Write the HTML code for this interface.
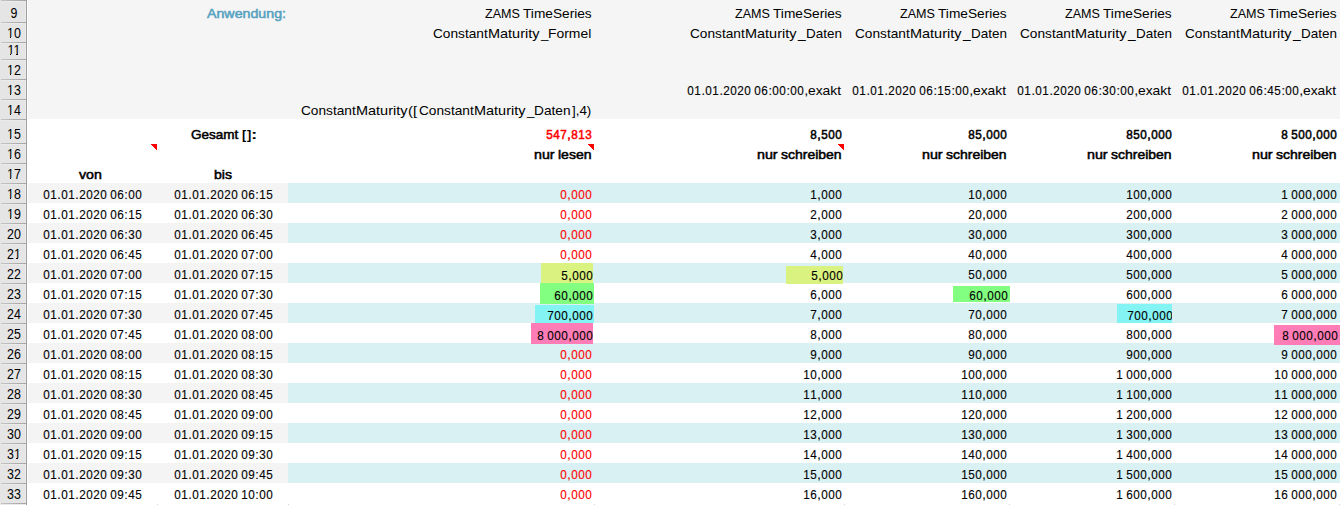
<!DOCTYPE html>
<html><head><meta charset="utf-8"><title>sheet</title><style>
html,body{margin:0;padding:0;background:#fff}
body{width:1340px;height:505px;overflow:hidden;position:relative;font-family:"Liberation Sans",sans-serif;color:#000}
.r{position:absolute}
.t{position:absolute;height:20px;line-height:20px;white-space:nowrap;font-size:12.6px;display:flex}
.t b{font-weight:normal;display:flex;justify-content:center}
.bd,.t.bd b{font-weight:bold}
.fb,.t.fb b{-webkit-text-stroke:0.52px currentColor}
.d{width:7px;transform:scaleX(.93)}.p{width:4px}.e{width:3px}
.t{-webkit-text-stroke:0.12px currentColor}
.w{position:absolute;height:20px;line-height:20px;white-space:pre;font-size:13.0px;transform-origin:0 50%}
.hb{position:absolute;left:1px;width:25px;height:1px;background:linear-gradient(90deg,#c4c4c4,#a4a4a4);box-shadow:0 1px 0 #ebebeb}
.fp{position:absolute;height:1px;background:#e5e5e5}
.hn{position:absolute;left:0;width:28px;height:16px;line-height:16px;text-align:center;font-size:13.8px;transform:scaleX(0.9)}
</style></head><body>
<div class="r" style="left:28px;top:0;width:1312px;height:119px;background:#f5f5f5"></div>
<div class="r" style="left:28px;top:183px;width:260px;height:20px;background:#f4f4f4"></div>
<div class="r" style="left:288px;top:183px;width:1052px;height:20px;background:#d9f1f3"></div>
<div class="r" style="left:28px;top:223px;width:260px;height:20px;background:#f4f4f4"></div>
<div class="r" style="left:288px;top:223px;width:1052px;height:20px;background:#d9f1f3"></div>
<div class="r" style="left:28px;top:263px;width:260px;height:20px;background:#f4f4f4"></div>
<div class="r" style="left:288px;top:263px;width:1052px;height:20px;background:#d9f1f3"></div>
<div class="r" style="left:28px;top:303px;width:260px;height:20px;background:#f4f4f4"></div>
<div class="r" style="left:288px;top:303px;width:1052px;height:20px;background:#d9f1f3"></div>
<div class="r" style="left:28px;top:343px;width:260px;height:20px;background:#f4f4f4"></div>
<div class="r" style="left:288px;top:343px;width:1052px;height:20px;background:#d9f1f3"></div>
<div class="r" style="left:28px;top:383px;width:260px;height:20px;background:#f4f4f4"></div>
<div class="r" style="left:288px;top:383px;width:1052px;height:20px;background:#d9f1f3"></div>
<div class="r" style="left:28px;top:423px;width:260px;height:20px;background:#f4f4f4"></div>
<div class="r" style="left:288px;top:423px;width:1052px;height:20px;background:#d9f1f3"></div>
<div class="r" style="left:28px;top:463px;width:260px;height:20px;background:#f4f4f4"></div>
<div class="r" style="left:288px;top:463px;width:1052px;height:20px;background:#d9f1f3"></div>
<div class="r" style="left:541px;top:263px;width:52px;height:20px;background:#daf280"></div>
<div class="r" style="left:540px;top:283px;width:54px;height:21px;background:#82ff80"></div>
<div class="r" style="left:535px;top:305px;width:59px;height:18px;background:#84f3f3"></div>
<div class="r" style="left:531px;top:323px;width:62px;height:21px;background:#ff7db7"></div>
<div class="r" style="left:786px;top:266px;width:57px;height:18px;background:#daf280"></div>
<div class="r" style="left:953px;top:286px;width:57px;height:16px;background:#82ff80"></div>
<div class="r" style="left:1117px;top:304px;width:55px;height:19px;background:#84f3f3"></div>
<div class="r" style="left:1274px;top:325px;width:66px;height:20px;background:#ff7db7"></div>
<svg class="r" style="left:151px;top:144px" width="6" height="6" shape-rendering="crispEdges"><path d="M0 0H6V6H5V5H4V4H3V3H2V2H1V1H0Z" fill="#ff0000"/></svg>
<svg class="r" style="left:588px;top:144px" width="6" height="6" shape-rendering="crispEdges"><path d="M0 0H6V6H5V5H4V4H3V3H2V2H1V1H0Z" fill="#ff0000"/></svg>
<svg class="r" style="left:838px;top:144px" width="6" height="6" shape-rendering="crispEdges"><path d="M0 0H6V6H5V5H4V4H3V3H2V2H1V1H0Z" fill="#ff0000"/></svg>
<div class="r" style="left:157px;top:504px;width:1px;height:1px;background:#d4d4d4"></div>
<div class="r" style="left:288px;top:504px;width:1px;height:1px;background:#d4d4d4"></div>
<div class="r" style="left:594px;top:504px;width:1px;height:1px;background:#d4d4d4"></div>
<div class="r" style="left:844px;top:504px;width:1px;height:1px;background:#d4d4d4"></div>
<div class="r" style="left:1009px;top:504px;width:1px;height:1px;background:#d4d4d4"></div>
<div class="r" style="left:1174px;top:504px;width:1px;height:1px;background:#d4d4d4"></div>
<div class="r" style="left:1339px;top:504px;width:1px;height:1px;background:#d4d4d4"></div>
<div class="r" style="left:0;top:0;width:26px;height:505px;background:#e5e5e5"></div>
<div class="r" style="left:26px;top:0;width:1px;height:505px;background:#9e9e9e"></div>
<div class="r" style="left:25px;top:0;width:1px;height:505px;background:#ececec"></div>
<div class="hb" style="top:22px"></div>
<div class="hn" style="top:6px">9</div>
<div class="hb" style="top:42px"></div>
<div class="hn" style="top:26px">10</div>
<div class="fp" style="left:6.9px;top:37px;width:2.7px"></div>
<div class="fp" style="left:11.4px;top:37px;width:2.7px"></div>
<div class="hb" style="top:59px"></div>
<div class="hn" style="top:43px">11</div>
<div class="fp" style="left:6.9px;top:54px;width:2.7px"></div>
<div class="fp" style="left:11.4px;top:54px;width:2.7px"></div>
<div class="fp" style="left:13.8px;top:54px;width:2.7px"></div>
<div class="fp" style="left:18.3px;top:54px;width:2.7px"></div>
<div class="hb" style="top:79px"></div>
<div class="hn" style="top:63px">12</div>
<div class="fp" style="left:6.9px;top:74px;width:2.7px"></div>
<div class="fp" style="left:11.4px;top:74px;width:2.7px"></div>
<div class="hb" style="top:99px"></div>
<div class="hn" style="top:83px">13</div>
<div class="fp" style="left:6.9px;top:94px;width:2.7px"></div>
<div class="fp" style="left:11.4px;top:94px;width:2.7px"></div>
<div class="hb" style="top:119px"></div>
<div class="hn" style="top:103px">14</div>
<div class="fp" style="left:6.9px;top:114px;width:2.7px"></div>
<div class="fp" style="left:11.4px;top:114px;width:2.7px"></div>
<div class="hb" style="top:143px"></div>
<div class="hn" style="top:127px">15</div>
<div class="fp" style="left:6.9px;top:138px;width:2.7px"></div>
<div class="fp" style="left:11.4px;top:138px;width:2.7px"></div>
<div class="hb" style="top:163px"></div>
<div class="hn" style="top:147px">16</div>
<div class="fp" style="left:6.9px;top:158px;width:2.7px"></div>
<div class="fp" style="left:11.4px;top:158px;width:2.7px"></div>
<div class="hb" style="top:183px"></div>
<div class="hn" style="top:167px">17</div>
<div class="fp" style="left:6.9px;top:178px;width:2.7px"></div>
<div class="fp" style="left:11.4px;top:178px;width:2.7px"></div>
<div class="hb" style="top:203px"></div>
<div class="hn" style="top:187px">18</div>
<div class="fp" style="left:6.9px;top:198px;width:2.7px"></div>
<div class="fp" style="left:11.4px;top:198px;width:2.7px"></div>
<div class="hb" style="top:223px"></div>
<div class="hn" style="top:207px">19</div>
<div class="fp" style="left:6.9px;top:218px;width:2.7px"></div>
<div class="fp" style="left:11.4px;top:218px;width:2.7px"></div>
<div class="hb" style="top:243px"></div>
<div class="hn" style="top:227px">20</div>
<div class="hb" style="top:263px"></div>
<div class="hn" style="top:247px">21</div>
<div class="fp" style="left:13.8px;top:258px;width:2.7px"></div>
<div class="fp" style="left:18.3px;top:258px;width:2.7px"></div>
<div class="hb" style="top:283px"></div>
<div class="hn" style="top:267px">22</div>
<div class="hb" style="top:303px"></div>
<div class="hn" style="top:287px">23</div>
<div class="hb" style="top:323px"></div>
<div class="hn" style="top:307px">24</div>
<div class="hb" style="top:343px"></div>
<div class="hn" style="top:327px">25</div>
<div class="hb" style="top:363px"></div>
<div class="hn" style="top:347px">26</div>
<div class="hb" style="top:383px"></div>
<div class="hn" style="top:367px">27</div>
<div class="hb" style="top:403px"></div>
<div class="hn" style="top:387px">28</div>
<div class="hb" style="top:423px"></div>
<div class="hn" style="top:407px">29</div>
<div class="hb" style="top:443px"></div>
<div class="hn" style="top:427px">30</div>
<div class="hb" style="top:463px"></div>
<div class="hn" style="top:447px">31</div>
<div class="fp" style="left:13.8px;top:458px;width:2.7px"></div>
<div class="fp" style="left:18.3px;top:458px;width:2.7px"></div>
<div class="hb" style="top:483px"></div>
<div class="hn" style="top:467px">32</div>
<div class="hb" style="top:503px"></div>
<div class="hn" style="top:487px">33</div>
<div class="hb" style="top:0"></div>
<div class="w fb" style="left:207.45px;top:4px;transform:scaleX(1.0927);color:#56a1c0">Anwendung:</div>
<div class="w" style="left:484.50px;top:4px;transform:scaleX(0.9654)">ZAMS</div>
<div class="w" style="left:523.09px;top:4px;transform:scaleX(1.0526)">TimeSeries</div>
<div class="w" style="left:734.60px;top:4px;transform:scaleX(0.9654)">ZAMS</div>
<div class="w" style="left:773.19px;top:4px;transform:scaleX(1.0526)">TimeSeries</div>
<div class="w" style="left:899.60px;top:4px;transform:scaleX(0.9654)">ZAMS</div>
<div class="w" style="left:938.19px;top:4px;transform:scaleX(1.0526)">TimeSeries</div>
<div class="w" style="left:1064.60px;top:4px;transform:scaleX(0.9654)">ZAMS</div>
<div class="w" style="left:1103.19px;top:4px;transform:scaleX(1.0526)">TimeSeries</div>
<div class="w" style="left:1229.60px;top:4px;transform:scaleX(0.9654)">ZAMS</div>
<div class="w" style="left:1268.19px;top:4px;transform:scaleX(1.0526)">TimeSeries</div>
<div class="w" style="left:432.71px;top:24px;transform:scaleX(1.0509)">Constant</div>
<div class="w" style="left:488.01px;top:24px;transform:scaleX(1.1120)">Maturity</div>
<div class="w" style="left:540.80px;top:24px;transform:scaleX(1.0294)">_</div>
<div class="w" style="left:548.46px;top:24px;transform:scaleX(1.0697)">Formel</div>
<div class="w" style="left:689.51px;top:24px;transform:scaleX(1.0509)">Constant</div>
<div class="w" style="left:744.81px;top:24px;transform:scaleX(1.1120)">Maturity</div>
<div class="w" style="left:797.91px;top:24px;transform:scaleX(1.0558)">_</div>
<div class="w" style="left:805.80px;top:24px;transform:scaleX(1.0338)">Daten</div>
<div class="w" style="left:854.51px;top:24px;transform:scaleX(1.0509)">Constant</div>
<div class="w" style="left:909.81px;top:24px;transform:scaleX(1.1120)">Maturity</div>
<div class="w" style="left:962.91px;top:24px;transform:scaleX(1.0558)">_</div>
<div class="w" style="left:970.80px;top:24px;transform:scaleX(1.0338)">Daten</div>
<div class="w" style="left:1019.51px;top:24px;transform:scaleX(1.0509)">Constant</div>
<div class="w" style="left:1074.81px;top:24px;transform:scaleX(1.1120)">Maturity</div>
<div class="w" style="left:1127.91px;top:24px;transform:scaleX(1.0558)">_</div>
<div class="w" style="left:1135.80px;top:24px;transform:scaleX(1.0338)">Daten</div>
<div class="w" style="left:1184.51px;top:24px;transform:scaleX(1.0509)">Constant</div>
<div class="w" style="left:1239.81px;top:24px;transform:scaleX(1.1120)">Maturity</div>
<div class="w" style="left:1292.91px;top:24px;transform:scaleX(1.0558)">_</div>
<div class="w" style="left:1300.80px;top:24px;transform:scaleX(1.0338)">Daten</div>
<div class="w" style="left:808.21px;top:81px;transform:scaleX(1.0647)">exakt</div>
<div class="w" style="left:973.21px;top:81px;transform:scaleX(1.0647)">exakt</div>
<div class="w" style="left:1138.21px;top:81px;transform:scaleX(1.0647)">exakt</div>
<div class="w" style="left:1303.21px;top:81px;transform:scaleX(1.0647)">exakt</div>
<div class="w" style="left:300.91px;top:101px;transform:scaleX(1.0509)">Constant</div>
<div class="w" style="left:356.21px;top:101px;transform:scaleX(1.1120)">Maturity</div>
<div class="w" style="left:408.48px;top:101px;transform:scaleX(1.1355)">([</div>
<div class="w" style="left:418.71px;top:101px;transform:scaleX(1.0509)">Constant</div>
<div class="w" style="left:474.01px;top:101px;transform:scaleX(1.1120)">Maturity</div>
<div class="w" style="left:526.80px;top:101px;transform:scaleX(1.0294)">_</div>
<div class="w" style="left:534.48px;top:101px;transform:scaleX(1.0521)">Daten</div>
<div class="w" style="left:571.80px;top:101px;transform:scaleX(1.0286)">],4)</div>
<div class="w fb" style="left:190.98px;top:125px;transform:scaleX(1.0405)">Gesamt</div>
<div class="w bd" style="left:242.18px;top:125px;transform:scaleX(0.9841)">[</div>
<div class="w bd" style="left:247.24px;top:125px;transform:scaleX(0.9841)">]</div>
<div class="w bd" style="left:251.17px;top:125px;transform:scaleX(1.4652)">:</div>
<div class="w fb" style="left:533.73px;top:145px;transform:scaleX(1.0923)">nur</div>
<div class="w fb" style="left:558.12px;top:145px;transform:scaleX(1.0784)">lesen</div>
<div class="w fb" style="left:756.73px;top:145px;transform:scaleX(1.0978)">nur</div>
<div class="w fb" style="left:781.08px;top:145px;transform:scaleX(1.0742)">schreiben</div>
<div class="w fb" style="left:921.73px;top:145px;transform:scaleX(1.0978)">nur</div>
<div class="w fb" style="left:946.08px;top:145px;transform:scaleX(1.0742)">schreiben</div>
<div class="w fb" style="left:1086.73px;top:145px;transform:scaleX(1.0978)">nur</div>
<div class="w fb" style="left:1111.08px;top:145px;transform:scaleX(1.0742)">schreiben</div>
<div class="w fb" style="left:1251.73px;top:145px;transform:scaleX(1.0978)">nur</div>
<div class="w fb" style="left:1276.08px;top:145px;transform:scaleX(1.0742)">schreiben</div>
<div class="w fb" style="left:79.22px;top:165px;transform:scaleX(1.0884)">von</div>
<div class="w fb" style="left:213.76px;top:165px;transform:scaleX(1.0811)">bis</div>
<div class="t" style="left:687.30px;top:81px;width:121px"><b class="d">0</b><b class="d">1</b><b class="p">.</b><b class="d">0</b><b class="d">1</b><b class="p">.</b><b class="d">2</b><b class="d">0</b><b class="d">2</b><b class="d">0</b><b class="e">&nbsp;</b><b class="d">0</b><b class="d">6</b><b class="p">:</b><b class="d">0</b><b class="d">0</b><b class="p">:</b><b class="d">0</b><b class="d">0</b><b class="p">,</b></div>
<div class="t" style="left:852.30px;top:81px;width:121px"><b class="d">0</b><b class="d">1</b><b class="p">.</b><b class="d">0</b><b class="d">1</b><b class="p">.</b><b class="d">2</b><b class="d">0</b><b class="d">2</b><b class="d">0</b><b class="e">&nbsp;</b><b class="d">0</b><b class="d">6</b><b class="p">:</b><b class="d">1</b><b class="d">5</b><b class="p">:</b><b class="d">0</b><b class="d">0</b><b class="p">,</b></div>
<div class="t" style="left:1017.30px;top:81px;width:121px"><b class="d">0</b><b class="d">1</b><b class="p">.</b><b class="d">0</b><b class="d">1</b><b class="p">.</b><b class="d">2</b><b class="d">0</b><b class="d">2</b><b class="d">0</b><b class="e">&nbsp;</b><b class="d">0</b><b class="d">6</b><b class="p">:</b><b class="d">3</b><b class="d">0</b><b class="p">:</b><b class="d">0</b><b class="d">0</b><b class="p">,</b></div>
<div class="t" style="left:1182.30px;top:81px;width:121px"><b class="d">0</b><b class="d">1</b><b class="p">.</b><b class="d">0</b><b class="d">1</b><b class="p">.</b><b class="d">2</b><b class="d">0</b><b class="d">2</b><b class="d">0</b><b class="e">&nbsp;</b><b class="d">0</b><b class="d">6</b><b class="p">:</b><b class="d">4</b><b class="d">5</b><b class="p">:</b><b class="d">0</b><b class="d">0</b><b class="p">,</b></div>
<div class="t fb" style="left:546.00px;top:125px;width:46px;color:#ff0000"><b class="d">5</b><b class="d">4</b><b class="d">7</b><b class="p">,</b><b class="d">8</b><b class="d">1</b><b class="d">3</b></div>
<div class="t fb" style="left:810.00px;top:125px;width:32px"><b class="d">8</b><b class="p">,</b><b class="d">5</b><b class="d">0</b><b class="d">0</b></div>
<div class="t fb" style="left:968.00px;top:125px;width:39px"><b class="d">8</b><b class="d">5</b><b class="p">,</b><b class="d">0</b><b class="d">0</b><b class="d">0</b></div>
<div class="t fb" style="left:1126.00px;top:125px;width:46px"><b class="d">8</b><b class="d">5</b><b class="d">0</b><b class="p">,</b><b class="d">0</b><b class="d">0</b><b class="d">0</b></div>
<div class="t fb" style="left:1281.00px;top:125px;width:56px"><b class="d">8</b><b class="e">&nbsp;</b><b class="d">5</b><b class="d">0</b><b class="d">0</b><b class="p">,</b><b class="d">0</b><b class="d">0</b><b class="d">0</b></div>
<div class="t" style="left:43.00px;top:185px;width:99px"><b class="d">0</b><b class="d">1</b><b class="p">.</b><b class="d">0</b><b class="d">1</b><b class="p">.</b><b class="d">2</b><b class="d">0</b><b class="d">2</b><b class="d">0</b><b class="e">&nbsp;</b><b class="d">0</b><b class="d">6</b><b class="p">:</b><b class="d">0</b><b class="d">0</b></div>
<div class="t" style="left:174.00px;top:185px;width:99px"><b class="d">0</b><b class="d">1</b><b class="p">.</b><b class="d">0</b><b class="d">1</b><b class="p">.</b><b class="d">2</b><b class="d">0</b><b class="d">2</b><b class="d">0</b><b class="e">&nbsp;</b><b class="d">0</b><b class="d">6</b><b class="p">:</b><b class="d">1</b><b class="d">5</b></div>
<div class="t" style="left:560.00px;top:185px;width:32px;color:#ff0000"><b class="d">0</b><b class="p">,</b><b class="d">0</b><b class="d">0</b><b class="d">0</b></div>
<div class="t" style="left:810.00px;top:185px;width:32px"><b class="d">1</b><b class="p">,</b><b class="d">0</b><b class="d">0</b><b class="d">0</b></div>
<div class="t" style="left:968.00px;top:185px;width:39px"><b class="d">1</b><b class="d">0</b><b class="p">,</b><b class="d">0</b><b class="d">0</b><b class="d">0</b></div>
<div class="t" style="left:1126.00px;top:185px;width:46px"><b class="d">1</b><b class="d">0</b><b class="d">0</b><b class="p">,</b><b class="d">0</b><b class="d">0</b><b class="d">0</b></div>
<div class="t" style="left:1281.00px;top:185px;width:56px"><b class="d">1</b><b class="e">&nbsp;</b><b class="d">0</b><b class="d">0</b><b class="d">0</b><b class="p">,</b><b class="d">0</b><b class="d">0</b><b class="d">0</b></div>
<div class="t" style="left:43.00px;top:205px;width:99px"><b class="d">0</b><b class="d">1</b><b class="p">.</b><b class="d">0</b><b class="d">1</b><b class="p">.</b><b class="d">2</b><b class="d">0</b><b class="d">2</b><b class="d">0</b><b class="e">&nbsp;</b><b class="d">0</b><b class="d">6</b><b class="p">:</b><b class="d">1</b><b class="d">5</b></div>
<div class="t" style="left:174.00px;top:205px;width:99px"><b class="d">0</b><b class="d">1</b><b class="p">.</b><b class="d">0</b><b class="d">1</b><b class="p">.</b><b class="d">2</b><b class="d">0</b><b class="d">2</b><b class="d">0</b><b class="e">&nbsp;</b><b class="d">0</b><b class="d">6</b><b class="p">:</b><b class="d">3</b><b class="d">0</b></div>
<div class="t" style="left:560.00px;top:205px;width:32px;color:#ff0000"><b class="d">0</b><b class="p">,</b><b class="d">0</b><b class="d">0</b><b class="d">0</b></div>
<div class="t" style="left:810.00px;top:205px;width:32px"><b class="d">2</b><b class="p">,</b><b class="d">0</b><b class="d">0</b><b class="d">0</b></div>
<div class="t" style="left:968.00px;top:205px;width:39px"><b class="d">2</b><b class="d">0</b><b class="p">,</b><b class="d">0</b><b class="d">0</b><b class="d">0</b></div>
<div class="t" style="left:1126.00px;top:205px;width:46px"><b class="d">2</b><b class="d">0</b><b class="d">0</b><b class="p">,</b><b class="d">0</b><b class="d">0</b><b class="d">0</b></div>
<div class="t" style="left:1281.00px;top:205px;width:56px"><b class="d">2</b><b class="e">&nbsp;</b><b class="d">0</b><b class="d">0</b><b class="d">0</b><b class="p">,</b><b class="d">0</b><b class="d">0</b><b class="d">0</b></div>
<div class="t" style="left:43.00px;top:225px;width:99px"><b class="d">0</b><b class="d">1</b><b class="p">.</b><b class="d">0</b><b class="d">1</b><b class="p">.</b><b class="d">2</b><b class="d">0</b><b class="d">2</b><b class="d">0</b><b class="e">&nbsp;</b><b class="d">0</b><b class="d">6</b><b class="p">:</b><b class="d">3</b><b class="d">0</b></div>
<div class="t" style="left:174.00px;top:225px;width:99px"><b class="d">0</b><b class="d">1</b><b class="p">.</b><b class="d">0</b><b class="d">1</b><b class="p">.</b><b class="d">2</b><b class="d">0</b><b class="d">2</b><b class="d">0</b><b class="e">&nbsp;</b><b class="d">0</b><b class="d">6</b><b class="p">:</b><b class="d">4</b><b class="d">5</b></div>
<div class="t" style="left:560.00px;top:225px;width:32px;color:#ff0000"><b class="d">0</b><b class="p">,</b><b class="d">0</b><b class="d">0</b><b class="d">0</b></div>
<div class="t" style="left:810.00px;top:225px;width:32px"><b class="d">3</b><b class="p">,</b><b class="d">0</b><b class="d">0</b><b class="d">0</b></div>
<div class="t" style="left:968.00px;top:225px;width:39px"><b class="d">3</b><b class="d">0</b><b class="p">,</b><b class="d">0</b><b class="d">0</b><b class="d">0</b></div>
<div class="t" style="left:1126.00px;top:225px;width:46px"><b class="d">3</b><b class="d">0</b><b class="d">0</b><b class="p">,</b><b class="d">0</b><b class="d">0</b><b class="d">0</b></div>
<div class="t" style="left:1281.00px;top:225px;width:56px"><b class="d">3</b><b class="e">&nbsp;</b><b class="d">0</b><b class="d">0</b><b class="d">0</b><b class="p">,</b><b class="d">0</b><b class="d">0</b><b class="d">0</b></div>
<div class="t" style="left:43.00px;top:245px;width:99px"><b class="d">0</b><b class="d">1</b><b class="p">.</b><b class="d">0</b><b class="d">1</b><b class="p">.</b><b class="d">2</b><b class="d">0</b><b class="d">2</b><b class="d">0</b><b class="e">&nbsp;</b><b class="d">0</b><b class="d">6</b><b class="p">:</b><b class="d">4</b><b class="d">5</b></div>
<div class="t" style="left:174.00px;top:245px;width:99px"><b class="d">0</b><b class="d">1</b><b class="p">.</b><b class="d">0</b><b class="d">1</b><b class="p">.</b><b class="d">2</b><b class="d">0</b><b class="d">2</b><b class="d">0</b><b class="e">&nbsp;</b><b class="d">0</b><b class="d">7</b><b class="p">:</b><b class="d">0</b><b class="d">0</b></div>
<div class="t" style="left:560.00px;top:245px;width:32px;color:#ff0000"><b class="d">0</b><b class="p">,</b><b class="d">0</b><b class="d">0</b><b class="d">0</b></div>
<div class="t" style="left:810.00px;top:245px;width:32px"><b class="d">4</b><b class="p">,</b><b class="d">0</b><b class="d">0</b><b class="d">0</b></div>
<div class="t" style="left:968.00px;top:245px;width:39px"><b class="d">4</b><b class="d">0</b><b class="p">,</b><b class="d">0</b><b class="d">0</b><b class="d">0</b></div>
<div class="t" style="left:1126.00px;top:245px;width:46px"><b class="d">4</b><b class="d">0</b><b class="d">0</b><b class="p">,</b><b class="d">0</b><b class="d">0</b><b class="d">0</b></div>
<div class="t" style="left:1281.00px;top:245px;width:56px"><b class="d">4</b><b class="e">&nbsp;</b><b class="d">0</b><b class="d">0</b><b class="d">0</b><b class="p">,</b><b class="d">0</b><b class="d">0</b><b class="d">0</b></div>
<div class="t" style="left:43.00px;top:265px;width:99px"><b class="d">0</b><b class="d">1</b><b class="p">.</b><b class="d">0</b><b class="d">1</b><b class="p">.</b><b class="d">2</b><b class="d">0</b><b class="d">2</b><b class="d">0</b><b class="e">&nbsp;</b><b class="d">0</b><b class="d">7</b><b class="p">:</b><b class="d">0</b><b class="d">0</b></div>
<div class="t" style="left:174.00px;top:265px;width:99px"><b class="d">0</b><b class="d">1</b><b class="p">.</b><b class="d">0</b><b class="d">1</b><b class="p">.</b><b class="d">2</b><b class="d">0</b><b class="d">2</b><b class="d">0</b><b class="e">&nbsp;</b><b class="d">0</b><b class="d">7</b><b class="p">:</b><b class="d">1</b><b class="d">5</b></div>
<div class="t" style="left:561.00px;top:266px;width:32px"><b class="d">5</b><b class="p">,</b><b class="d">0</b><b class="d">0</b><b class="d">0</b></div>
<div class="t" style="left:811.00px;top:266px;width:32px"><b class="d">5</b><b class="p">,</b><b class="d">0</b><b class="d">0</b><b class="d">0</b></div>
<div class="t" style="left:968.00px;top:265px;width:39px"><b class="d">5</b><b class="d">0</b><b class="p">,</b><b class="d">0</b><b class="d">0</b><b class="d">0</b></div>
<div class="t" style="left:1126.00px;top:265px;width:46px"><b class="d">5</b><b class="d">0</b><b class="d">0</b><b class="p">,</b><b class="d">0</b><b class="d">0</b><b class="d">0</b></div>
<div class="t" style="left:1281.00px;top:265px;width:56px"><b class="d">5</b><b class="e">&nbsp;</b><b class="d">0</b><b class="d">0</b><b class="d">0</b><b class="p">,</b><b class="d">0</b><b class="d">0</b><b class="d">0</b></div>
<div class="t" style="left:43.00px;top:285px;width:99px"><b class="d">0</b><b class="d">1</b><b class="p">.</b><b class="d">0</b><b class="d">1</b><b class="p">.</b><b class="d">2</b><b class="d">0</b><b class="d">2</b><b class="d">0</b><b class="e">&nbsp;</b><b class="d">0</b><b class="d">7</b><b class="p">:</b><b class="d">1</b><b class="d">5</b></div>
<div class="t" style="left:174.00px;top:285px;width:99px"><b class="d">0</b><b class="d">1</b><b class="p">.</b><b class="d">0</b><b class="d">1</b><b class="p">.</b><b class="d">2</b><b class="d">0</b><b class="d">2</b><b class="d">0</b><b class="e">&nbsp;</b><b class="d">0</b><b class="d">7</b><b class="p">:</b><b class="d">3</b><b class="d">0</b></div>
<div class="t" style="left:554.00px;top:286px;width:39px"><b class="d">6</b><b class="d">0</b><b class="p">,</b><b class="d">0</b><b class="d">0</b><b class="d">0</b></div>
<div class="t" style="left:810.00px;top:285px;width:32px"><b class="d">6</b><b class="p">,</b><b class="d">0</b><b class="d">0</b><b class="d">0</b></div>
<div class="t" style="left:969.00px;top:286px;width:39px"><b class="d">6</b><b class="d">0</b><b class="p">,</b><b class="d">0</b><b class="d">0</b><b class="d">0</b></div>
<div class="t" style="left:1126.00px;top:285px;width:46px"><b class="d">6</b><b class="d">0</b><b class="d">0</b><b class="p">,</b><b class="d">0</b><b class="d">0</b><b class="d">0</b></div>
<div class="t" style="left:1281.00px;top:285px;width:56px"><b class="d">6</b><b class="e">&nbsp;</b><b class="d">0</b><b class="d">0</b><b class="d">0</b><b class="p">,</b><b class="d">0</b><b class="d">0</b><b class="d">0</b></div>
<div class="t" style="left:43.00px;top:305px;width:99px"><b class="d">0</b><b class="d">1</b><b class="p">.</b><b class="d">0</b><b class="d">1</b><b class="p">.</b><b class="d">2</b><b class="d">0</b><b class="d">2</b><b class="d">0</b><b class="e">&nbsp;</b><b class="d">0</b><b class="d">7</b><b class="p">:</b><b class="d">3</b><b class="d">0</b></div>
<div class="t" style="left:174.00px;top:305px;width:99px"><b class="d">0</b><b class="d">1</b><b class="p">.</b><b class="d">0</b><b class="d">1</b><b class="p">.</b><b class="d">2</b><b class="d">0</b><b class="d">2</b><b class="d">0</b><b class="e">&nbsp;</b><b class="d">0</b><b class="d">7</b><b class="p">:</b><b class="d">4</b><b class="d">5</b></div>
<div class="t" style="left:547.00px;top:306px;width:46px"><b class="d">7</b><b class="d">0</b><b class="d">0</b><b class="p">,</b><b class="d">0</b><b class="d">0</b><b class="d">0</b></div>
<div class="t" style="left:810.00px;top:305px;width:32px"><b class="d">7</b><b class="p">,</b><b class="d">0</b><b class="d">0</b><b class="d">0</b></div>
<div class="t" style="left:968.00px;top:305px;width:39px"><b class="d">7</b><b class="d">0</b><b class="p">,</b><b class="d">0</b><b class="d">0</b><b class="d">0</b></div>
<div class="t" style="left:1127.00px;top:306px;width:46px;clip-path:inset(0 1px 0 0)"><b class="d">7</b><b class="d">0</b><b class="d">0</b><b class="p">,</b><b class="d">0</b><b class="d">0</b><b class="d">0</b></div>
<div class="t" style="left:1281.00px;top:305px;width:56px"><b class="d">7</b><b class="e">&nbsp;</b><b class="d">0</b><b class="d">0</b><b class="d">0</b><b class="p">,</b><b class="d">0</b><b class="d">0</b><b class="d">0</b></div>
<div class="t" style="left:43.00px;top:325px;width:99px"><b class="d">0</b><b class="d">1</b><b class="p">.</b><b class="d">0</b><b class="d">1</b><b class="p">.</b><b class="d">2</b><b class="d">0</b><b class="d">2</b><b class="d">0</b><b class="e">&nbsp;</b><b class="d">0</b><b class="d">7</b><b class="p">:</b><b class="d">4</b><b class="d">5</b></div>
<div class="t" style="left:174.00px;top:325px;width:99px"><b class="d">0</b><b class="d">1</b><b class="p">.</b><b class="d">0</b><b class="d">1</b><b class="p">.</b><b class="d">2</b><b class="d">0</b><b class="d">2</b><b class="d">0</b><b class="e">&nbsp;</b><b class="d">0</b><b class="d">8</b><b class="p">:</b><b class="d">0</b><b class="d">0</b></div>
<div class="t" style="left:537.00px;top:326px;width:56px"><b class="d">8</b><b class="e">&nbsp;</b><b class="d">0</b><b class="d">0</b><b class="d">0</b><b class="p">,</b><b class="d">0</b><b class="d">0</b><b class="d">0</b></div>
<div class="t" style="left:810.00px;top:325px;width:32px"><b class="d">8</b><b class="p">,</b><b class="d">0</b><b class="d">0</b><b class="d">0</b></div>
<div class="t" style="left:968.00px;top:325px;width:39px"><b class="d">8</b><b class="d">0</b><b class="p">,</b><b class="d">0</b><b class="d">0</b><b class="d">0</b></div>
<div class="t" style="left:1126.00px;top:325px;width:46px"><b class="d">8</b><b class="d">0</b><b class="d">0</b><b class="p">,</b><b class="d">0</b><b class="d">0</b><b class="d">0</b></div>
<div class="t" style="left:1282.00px;top:326px;width:56px"><b class="d">8</b><b class="e">&nbsp;</b><b class="d">0</b><b class="d">0</b><b class="d">0</b><b class="p">,</b><b class="d">0</b><b class="d">0</b><b class="d">0</b></div>
<div class="t" style="left:43.00px;top:345px;width:99px"><b class="d">0</b><b class="d">1</b><b class="p">.</b><b class="d">0</b><b class="d">1</b><b class="p">.</b><b class="d">2</b><b class="d">0</b><b class="d">2</b><b class="d">0</b><b class="e">&nbsp;</b><b class="d">0</b><b class="d">8</b><b class="p">:</b><b class="d">0</b><b class="d">0</b></div>
<div class="t" style="left:174.00px;top:345px;width:99px"><b class="d">0</b><b class="d">1</b><b class="p">.</b><b class="d">0</b><b class="d">1</b><b class="p">.</b><b class="d">2</b><b class="d">0</b><b class="d">2</b><b class="d">0</b><b class="e">&nbsp;</b><b class="d">0</b><b class="d">8</b><b class="p">:</b><b class="d">1</b><b class="d">5</b></div>
<div class="t" style="left:560.00px;top:345px;width:32px;color:#ff0000"><b class="d">0</b><b class="p">,</b><b class="d">0</b><b class="d">0</b><b class="d">0</b></div>
<div class="t" style="left:810.00px;top:345px;width:32px"><b class="d">9</b><b class="p">,</b><b class="d">0</b><b class="d">0</b><b class="d">0</b></div>
<div class="t" style="left:968.00px;top:345px;width:39px"><b class="d">9</b><b class="d">0</b><b class="p">,</b><b class="d">0</b><b class="d">0</b><b class="d">0</b></div>
<div class="t" style="left:1126.00px;top:345px;width:46px"><b class="d">9</b><b class="d">0</b><b class="d">0</b><b class="p">,</b><b class="d">0</b><b class="d">0</b><b class="d">0</b></div>
<div class="t" style="left:1281.00px;top:345px;width:56px"><b class="d">9</b><b class="e">&nbsp;</b><b class="d">0</b><b class="d">0</b><b class="d">0</b><b class="p">,</b><b class="d">0</b><b class="d">0</b><b class="d">0</b></div>
<div class="t" style="left:43.00px;top:365px;width:99px"><b class="d">0</b><b class="d">1</b><b class="p">.</b><b class="d">0</b><b class="d">1</b><b class="p">.</b><b class="d">2</b><b class="d">0</b><b class="d">2</b><b class="d">0</b><b class="e">&nbsp;</b><b class="d">0</b><b class="d">8</b><b class="p">:</b><b class="d">1</b><b class="d">5</b></div>
<div class="t" style="left:174.00px;top:365px;width:99px"><b class="d">0</b><b class="d">1</b><b class="p">.</b><b class="d">0</b><b class="d">1</b><b class="p">.</b><b class="d">2</b><b class="d">0</b><b class="d">2</b><b class="d">0</b><b class="e">&nbsp;</b><b class="d">0</b><b class="d">8</b><b class="p">:</b><b class="d">3</b><b class="d">0</b></div>
<div class="t" style="left:560.00px;top:365px;width:32px;color:#ff0000"><b class="d">0</b><b class="p">,</b><b class="d">0</b><b class="d">0</b><b class="d">0</b></div>
<div class="t" style="left:803.00px;top:365px;width:39px"><b class="d">1</b><b class="d">0</b><b class="p">,</b><b class="d">0</b><b class="d">0</b><b class="d">0</b></div>
<div class="t" style="left:961.00px;top:365px;width:46px"><b class="d">1</b><b class="d">0</b><b class="d">0</b><b class="p">,</b><b class="d">0</b><b class="d">0</b><b class="d">0</b></div>
<div class="t" style="left:1116.00px;top:365px;width:56px"><b class="d">1</b><b class="e">&nbsp;</b><b class="d">0</b><b class="d">0</b><b class="d">0</b><b class="p">,</b><b class="d">0</b><b class="d">0</b><b class="d">0</b></div>
<div class="t" style="left:1274.00px;top:365px;width:63px"><b class="d">1</b><b class="d">0</b><b class="e">&nbsp;</b><b class="d">0</b><b class="d">0</b><b class="d">0</b><b class="p">,</b><b class="d">0</b><b class="d">0</b><b class="d">0</b></div>
<div class="t" style="left:43.00px;top:385px;width:99px"><b class="d">0</b><b class="d">1</b><b class="p">.</b><b class="d">0</b><b class="d">1</b><b class="p">.</b><b class="d">2</b><b class="d">0</b><b class="d">2</b><b class="d">0</b><b class="e">&nbsp;</b><b class="d">0</b><b class="d">8</b><b class="p">:</b><b class="d">3</b><b class="d">0</b></div>
<div class="t" style="left:174.00px;top:385px;width:99px"><b class="d">0</b><b class="d">1</b><b class="p">.</b><b class="d">0</b><b class="d">1</b><b class="p">.</b><b class="d">2</b><b class="d">0</b><b class="d">2</b><b class="d">0</b><b class="e">&nbsp;</b><b class="d">0</b><b class="d">8</b><b class="p">:</b><b class="d">4</b><b class="d">5</b></div>
<div class="t" style="left:560.00px;top:385px;width:32px;color:#ff0000"><b class="d">0</b><b class="p">,</b><b class="d">0</b><b class="d">0</b><b class="d">0</b></div>
<div class="t" style="left:803.00px;top:385px;width:39px"><b class="d">1</b><b class="d">1</b><b class="p">,</b><b class="d">0</b><b class="d">0</b><b class="d">0</b></div>
<div class="t" style="left:961.00px;top:385px;width:46px"><b class="d">1</b><b class="d">1</b><b class="d">0</b><b class="p">,</b><b class="d">0</b><b class="d">0</b><b class="d">0</b></div>
<div class="t" style="left:1116.00px;top:385px;width:56px"><b class="d">1</b><b class="e">&nbsp;</b><b class="d">1</b><b class="d">0</b><b class="d">0</b><b class="p">,</b><b class="d">0</b><b class="d">0</b><b class="d">0</b></div>
<div class="t" style="left:1274.00px;top:385px;width:63px"><b class="d">1</b><b class="d">1</b><b class="e">&nbsp;</b><b class="d">0</b><b class="d">0</b><b class="d">0</b><b class="p">,</b><b class="d">0</b><b class="d">0</b><b class="d">0</b></div>
<div class="t" style="left:43.00px;top:405px;width:99px"><b class="d">0</b><b class="d">1</b><b class="p">.</b><b class="d">0</b><b class="d">1</b><b class="p">.</b><b class="d">2</b><b class="d">0</b><b class="d">2</b><b class="d">0</b><b class="e">&nbsp;</b><b class="d">0</b><b class="d">8</b><b class="p">:</b><b class="d">4</b><b class="d">5</b></div>
<div class="t" style="left:174.00px;top:405px;width:99px"><b class="d">0</b><b class="d">1</b><b class="p">.</b><b class="d">0</b><b class="d">1</b><b class="p">.</b><b class="d">2</b><b class="d">0</b><b class="d">2</b><b class="d">0</b><b class="e">&nbsp;</b><b class="d">0</b><b class="d">9</b><b class="p">:</b><b class="d">0</b><b class="d">0</b></div>
<div class="t" style="left:560.00px;top:405px;width:32px;color:#ff0000"><b class="d">0</b><b class="p">,</b><b class="d">0</b><b class="d">0</b><b class="d">0</b></div>
<div class="t" style="left:803.00px;top:405px;width:39px"><b class="d">1</b><b class="d">2</b><b class="p">,</b><b class="d">0</b><b class="d">0</b><b class="d">0</b></div>
<div class="t" style="left:961.00px;top:405px;width:46px"><b class="d">1</b><b class="d">2</b><b class="d">0</b><b class="p">,</b><b class="d">0</b><b class="d">0</b><b class="d">0</b></div>
<div class="t" style="left:1116.00px;top:405px;width:56px"><b class="d">1</b><b class="e">&nbsp;</b><b class="d">2</b><b class="d">0</b><b class="d">0</b><b class="p">,</b><b class="d">0</b><b class="d">0</b><b class="d">0</b></div>
<div class="t" style="left:1274.00px;top:405px;width:63px"><b class="d">1</b><b class="d">2</b><b class="e">&nbsp;</b><b class="d">0</b><b class="d">0</b><b class="d">0</b><b class="p">,</b><b class="d">0</b><b class="d">0</b><b class="d">0</b></div>
<div class="t" style="left:43.00px;top:425px;width:99px"><b class="d">0</b><b class="d">1</b><b class="p">.</b><b class="d">0</b><b class="d">1</b><b class="p">.</b><b class="d">2</b><b class="d">0</b><b class="d">2</b><b class="d">0</b><b class="e">&nbsp;</b><b class="d">0</b><b class="d">9</b><b class="p">:</b><b class="d">0</b><b class="d">0</b></div>
<div class="t" style="left:174.00px;top:425px;width:99px"><b class="d">0</b><b class="d">1</b><b class="p">.</b><b class="d">0</b><b class="d">1</b><b class="p">.</b><b class="d">2</b><b class="d">0</b><b class="d">2</b><b class="d">0</b><b class="e">&nbsp;</b><b class="d">0</b><b class="d">9</b><b class="p">:</b><b class="d">1</b><b class="d">5</b></div>
<div class="t" style="left:560.00px;top:425px;width:32px;color:#ff0000"><b class="d">0</b><b class="p">,</b><b class="d">0</b><b class="d">0</b><b class="d">0</b></div>
<div class="t" style="left:803.00px;top:425px;width:39px"><b class="d">1</b><b class="d">3</b><b class="p">,</b><b class="d">0</b><b class="d">0</b><b class="d">0</b></div>
<div class="t" style="left:961.00px;top:425px;width:46px"><b class="d">1</b><b class="d">3</b><b class="d">0</b><b class="p">,</b><b class="d">0</b><b class="d">0</b><b class="d">0</b></div>
<div class="t" style="left:1116.00px;top:425px;width:56px"><b class="d">1</b><b class="e">&nbsp;</b><b class="d">3</b><b class="d">0</b><b class="d">0</b><b class="p">,</b><b class="d">0</b><b class="d">0</b><b class="d">0</b></div>
<div class="t" style="left:1274.00px;top:425px;width:63px"><b class="d">1</b><b class="d">3</b><b class="e">&nbsp;</b><b class="d">0</b><b class="d">0</b><b class="d">0</b><b class="p">,</b><b class="d">0</b><b class="d">0</b><b class="d">0</b></div>
<div class="t" style="left:43.00px;top:445px;width:99px"><b class="d">0</b><b class="d">1</b><b class="p">.</b><b class="d">0</b><b class="d">1</b><b class="p">.</b><b class="d">2</b><b class="d">0</b><b class="d">2</b><b class="d">0</b><b class="e">&nbsp;</b><b class="d">0</b><b class="d">9</b><b class="p">:</b><b class="d">1</b><b class="d">5</b></div>
<div class="t" style="left:174.00px;top:445px;width:99px"><b class="d">0</b><b class="d">1</b><b class="p">.</b><b class="d">0</b><b class="d">1</b><b class="p">.</b><b class="d">2</b><b class="d">0</b><b class="d">2</b><b class="d">0</b><b class="e">&nbsp;</b><b class="d">0</b><b class="d">9</b><b class="p">:</b><b class="d">3</b><b class="d">0</b></div>
<div class="t" style="left:560.00px;top:445px;width:32px;color:#ff0000"><b class="d">0</b><b class="p">,</b><b class="d">0</b><b class="d">0</b><b class="d">0</b></div>
<div class="t" style="left:803.00px;top:445px;width:39px"><b class="d">1</b><b class="d">4</b><b class="p">,</b><b class="d">0</b><b class="d">0</b><b class="d">0</b></div>
<div class="t" style="left:961.00px;top:445px;width:46px"><b class="d">1</b><b class="d">4</b><b class="d">0</b><b class="p">,</b><b class="d">0</b><b class="d">0</b><b class="d">0</b></div>
<div class="t" style="left:1116.00px;top:445px;width:56px"><b class="d">1</b><b class="e">&nbsp;</b><b class="d">4</b><b class="d">0</b><b class="d">0</b><b class="p">,</b><b class="d">0</b><b class="d">0</b><b class="d">0</b></div>
<div class="t" style="left:1274.00px;top:445px;width:63px"><b class="d">1</b><b class="d">4</b><b class="e">&nbsp;</b><b class="d">0</b><b class="d">0</b><b class="d">0</b><b class="p">,</b><b class="d">0</b><b class="d">0</b><b class="d">0</b></div>
<div class="t" style="left:43.00px;top:465px;width:99px"><b class="d">0</b><b class="d">1</b><b class="p">.</b><b class="d">0</b><b class="d">1</b><b class="p">.</b><b class="d">2</b><b class="d">0</b><b class="d">2</b><b class="d">0</b><b class="e">&nbsp;</b><b class="d">0</b><b class="d">9</b><b class="p">:</b><b class="d">3</b><b class="d">0</b></div>
<div class="t" style="left:174.00px;top:465px;width:99px"><b class="d">0</b><b class="d">1</b><b class="p">.</b><b class="d">0</b><b class="d">1</b><b class="p">.</b><b class="d">2</b><b class="d">0</b><b class="d">2</b><b class="d">0</b><b class="e">&nbsp;</b><b class="d">0</b><b class="d">9</b><b class="p">:</b><b class="d">4</b><b class="d">5</b></div>
<div class="t" style="left:560.00px;top:465px;width:32px;color:#ff0000"><b class="d">0</b><b class="p">,</b><b class="d">0</b><b class="d">0</b><b class="d">0</b></div>
<div class="t" style="left:803.00px;top:465px;width:39px"><b class="d">1</b><b class="d">5</b><b class="p">,</b><b class="d">0</b><b class="d">0</b><b class="d">0</b></div>
<div class="t" style="left:961.00px;top:465px;width:46px"><b class="d">1</b><b class="d">5</b><b class="d">0</b><b class="p">,</b><b class="d">0</b><b class="d">0</b><b class="d">0</b></div>
<div class="t" style="left:1116.00px;top:465px;width:56px"><b class="d">1</b><b class="e">&nbsp;</b><b class="d">5</b><b class="d">0</b><b class="d">0</b><b class="p">,</b><b class="d">0</b><b class="d">0</b><b class="d">0</b></div>
<div class="t" style="left:1274.00px;top:465px;width:63px"><b class="d">1</b><b class="d">5</b><b class="e">&nbsp;</b><b class="d">0</b><b class="d">0</b><b class="d">0</b><b class="p">,</b><b class="d">0</b><b class="d">0</b><b class="d">0</b></div>
<div class="t" style="left:43.00px;top:485px;width:99px"><b class="d">0</b><b class="d">1</b><b class="p">.</b><b class="d">0</b><b class="d">1</b><b class="p">.</b><b class="d">2</b><b class="d">0</b><b class="d">2</b><b class="d">0</b><b class="e">&nbsp;</b><b class="d">0</b><b class="d">9</b><b class="p">:</b><b class="d">4</b><b class="d">5</b></div>
<div class="t" style="left:174.00px;top:485px;width:99px"><b class="d">0</b><b class="d">1</b><b class="p">.</b><b class="d">0</b><b class="d">1</b><b class="p">.</b><b class="d">2</b><b class="d">0</b><b class="d">2</b><b class="d">0</b><b class="e">&nbsp;</b><b class="d">1</b><b class="d">0</b><b class="p">:</b><b class="d">0</b><b class="d">0</b></div>
<div class="t" style="left:560.00px;top:485px;width:32px;color:#ff0000"><b class="d">0</b><b class="p">,</b><b class="d">0</b><b class="d">0</b><b class="d">0</b></div>
<div class="t" style="left:803.00px;top:485px;width:39px"><b class="d">1</b><b class="d">6</b><b class="p">,</b><b class="d">0</b><b class="d">0</b><b class="d">0</b></div>
<div class="t" style="left:961.00px;top:485px;width:46px"><b class="d">1</b><b class="d">6</b><b class="d">0</b><b class="p">,</b><b class="d">0</b><b class="d">0</b><b class="d">0</b></div>
<div class="t" style="left:1116.00px;top:485px;width:56px"><b class="d">1</b><b class="e">&nbsp;</b><b class="d">6</b><b class="d">0</b><b class="d">0</b><b class="p">,</b><b class="d">0</b><b class="d">0</b><b class="d">0</b></div>
<div class="t" style="left:1274.00px;top:485px;width:63px"><b class="d">1</b><b class="d">6</b><b class="e">&nbsp;</b><b class="d">0</b><b class="d">0</b><b class="d">0</b><b class="p">,</b><b class="d">0</b><b class="d">0</b><b class="d">0</b></div>
</body></html>
